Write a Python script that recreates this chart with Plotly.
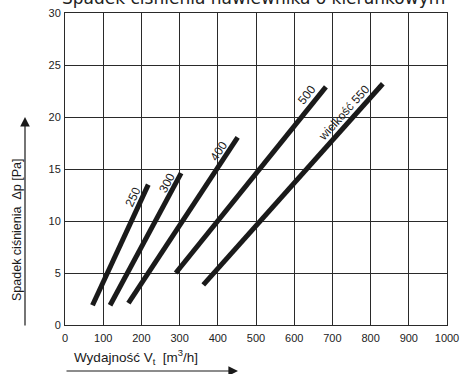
import plotly.graph_objects as go

# Data: airflow [m3/h] vs pressure drop [Pa] for each size
sizes = ["250", "300", "400", "500", "550"]
flow_start = [72, 118, 166, 290, 362]
flow_end = [218, 304, 452, 683, 832]
dp_start = [1.9, 1.9, 2.1, 5.0, 3.85]
dp_end = [13.5, 14.6, 18.05, 22.9, 23.2]

label_texts = ["250", "300", "400", "500", "wielkość 550"]
label_x = [178, 267, 403, 633, 730]
label_y = [12.3, 13.65, 16.7, 22.1, 20.4]
label_angle = [-65, -62, -57, -51, -48]

x_ticks = list(range(0, 1001, 100))
y_ticks = list(range(0, 31, 5))

fig = go.Figure()
for i, s in enumerate(sizes):
    fig.add_trace(go.Scatter(
        x=[flow_start[i], flow_end[i]], y=[dp_start[i], dp_end[i]],
        mode="lines", line=dict(color="#1a1a1a", width=5),
        name=s, showlegend=False, hoverinfo="skip"))

for t, x, y, a in zip(label_texts, label_x, label_y, label_angle):
    fig.add_annotation(x=x, y=y, xref="x", yref="y", text=t, showarrow=False,
                       textangle=a, font=dict(family="Liberation Sans", size=12, color="#1a1a1a"))

# Title (partly cut at top)
fig.add_annotation(xref="paper", yref="paper", x=-0.013, y=1, xanchor="left", yanchor="bottom",
                   yshift=3, text="Spadek ciśnienia nawiewnika o kierunkowym", showarrow=False,
                   font=dict(family="DejaVu Sans", size=17, color="#222"))

# Axis titles
fig.add_annotation(xref="paper", yref="paper", x=(72 - 65) / 382, y=(325 - 357) / 312,
                   xanchor="left", yanchor="middle",
                   text="Wydajność V<sub>t</sub>  [m<sup>3</sup>/h]", showarrow=False,
                   font=dict(family="Liberation Sans", size=13.5, color="#1a1a1a"))
fig.add_annotation(xref="paper", yref="paper", x=(17 - 65) / 382, y=(325 - 230) / 312,
                   xanchor="center", yanchor="middle", textangle=-90,
                   text="Spadek ciśnienia  Δp [Pa]", showarrow=False,
                   font=dict(family="Liberation Sans", size=12.5, color="#1a1a1a"))

# Arrows
fig.add_annotation(xref="paper", yref="paper", x=(238 - 65) / 382, y=(325 - 371) / 312,
                   ax=-173, ay=0, axref="pixel", ayref="pixel", text="", showarrow=True,
                   arrowhead=2, arrowsize=1.6, arrowwidth=1.2, arrowcolor="#1a1a1a")
fig.add_annotation(xref="paper", yref="paper", x=(25 - 65) / 382, y=(325 - 117) / 312,
                   ax=0, ay=210, axref="pixel", ayref="pixel", text="", showarrow=True,
                   arrowhead=2, arrowsize=1.6, arrowwidth=1.2, arrowcolor="#1a1a1a")

axis_common = dict(showgrid=True, gridcolor="#2a2a2a", gridwidth=1, showline=True,
                   linecolor="#2a2a2a", linewidth=1, mirror=True, zeroline=False, ticks="",
                   automargin=False,
                   tickfont=dict(family="Liberation Sans", size=11, color="#222"))
fig.update_xaxes(range=[0, 1000], tickvals=x_ticks, ticklabelstandoff=3, **axis_common)
fig.update_yaxes(range=[0, 30], tickvals=y_ticks, ticklabelstandoff=1, **axis_common)

fig.update_layout(width=465, height=374, margin=dict(l=65, r=18, t=13, b=49),
                  plot_bgcolor="white", paper_bgcolor="white")
fig.write_html("out.html", config={"displayModeBar": False},
               post_script="document.body.style.margin='0';document.body.style.overflow='hidden';")
